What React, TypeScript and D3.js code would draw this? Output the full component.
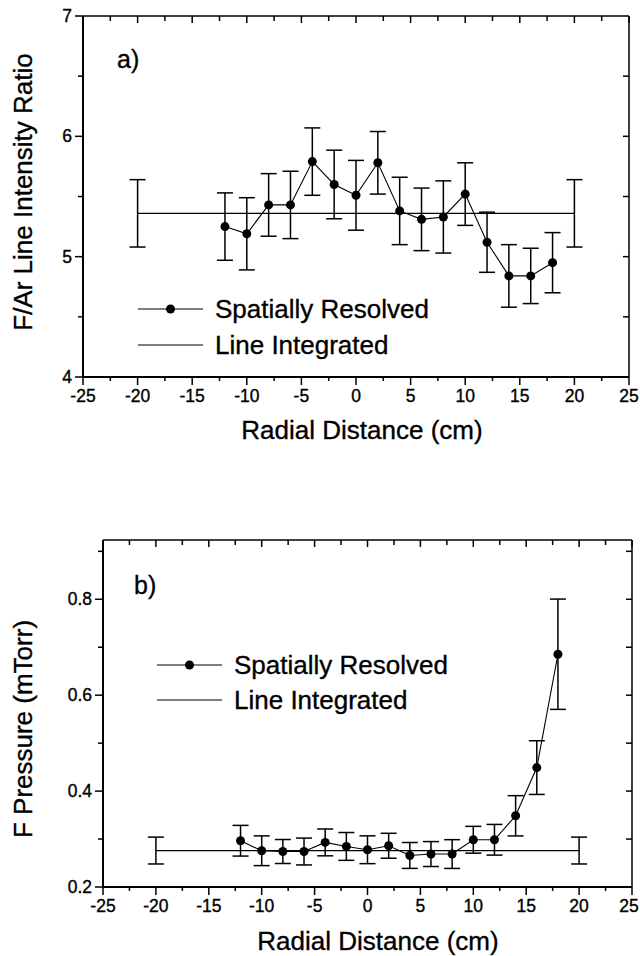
import React from "react";
import * as d3 from "d3";

// ---- Data ----
const radialPositions = [-12, -10, -8, -6, -4, -2, 0, 2, 4, 6, 8, 10, 12, 14, 16, 18];

const ratioValues = [5.25, 5.19, 5.43, 5.43, 5.79, 5.6, 5.51, 5.78, 5.38, 5.31, 5.33, 5.52, 5.12, 4.84, 4.84, 4.95];
const ratioErrors = [0.28, 0.3, 0.26, 0.28, 0.28, 0.285, 0.29, 0.26, 0.28, 0.26, 0.3, 0.26, 0.25, 0.26, 0.23, 0.25];
const ratioIntegratedSpan = [-20, 20];
const ratioIntegratedValue = 5.36;
const ratioIntegratedError = 0.28;

const pressureValues = [0.2965, 0.2756, 0.274, 0.274, 0.293, 0.2846, 0.2777, 0.286, 0.2658, 0.2687, 0.2687, 0.2985, 0.2985, 0.3485, 0.449, 0.6854];
const pressureErrors = [0.032, 0.031, 0.025, 0.028, 0.028, 0.029, 0.029, 0.026, 0.027, 0.026, 0.03, 0.028, 0.032, 0.042, 0.056, 0.115];
const pressureIntegratedSpan = [-20, 20];
const pressureIntegratedValue = 0.276;
const pressureIntegratedError = 0.028;

const xMajorTicks = [-25, -20, -15, -10, -5, 0, 5, 10, 15, 20, 25];
const xMinorTicks = [-22.5, -17.5, -12.5, -7.5, -2.5, 2.5, 7.5, 12.5, 17.5, 22.5];
const ratioMajorTicks = [4, 5, 6, 7];
const ratioMinorTicks = [4.5, 5.5, 6.5];
const pressureMajorTicks = [0.2, 0.4, 0.6, 0.8];
const pressureMinorTicks = [0.3, 0.5, 0.7, 0.9];

const legendLabels = ["Spatially Resolved", "Line Integrated"];
const xTitle = "Radial Distance (cm)";

const FONT = "'Liberation Sans', Arial, Helvetica, sans-serif";
const TS = 0.35; // slight text stroke to mimic the heavy print
const WIDTH = 640;

type PanelProps = {
  left: number; right: number; top: number; bottom: number;
  yDomain: [number, number];
  yMajor: number[]; yMinor: number[]; yFormat: (v: number) => string;
  values: number[]; errors: number[];
  intSpan: number[]; intValue: number; intError: number;
  panelLabel: string; panelLabelX: number; panelLabelY: number;
  yTitle: string; yTitleY: number;
  xTitleX: number; xTitleY: number;
  legendLineX0: number; legendY0: number; legendGap: number;
};

function Panel(p: PanelProps) {
  const x = d3.scaleLinear().domain([-25, 25]).range([p.left, p.right]);
  const y = d3.scaleLinear().domain(p.yDomain).range([p.bottom, p.top]);
  const pts = radialPositions.map((r, i) => ({ r, v: p.values[i], e: p.errors[i] }));
  const line = d3.line<{ r: number; v: number }>().x(d => x(d.r)).y(d => y(d.v));
  const cap = 8;
  const allXTicks = [...xMajorTicks, ...xMinorTicks];
  const allYTicks = [...p.yMajor, ...p.yMinor];
  const lx0 = p.legendLineX0;
  const lx1 = lx0 + 65;
  const txt = { fontFamily: FONT, stroke: "#000", strokeWidth: TS } as const;
  const labelX = (t: number) => Math.min(x(t), WIDTH - 11);
  return (
    <g>
      {/* frame */}
      <line x1={p.left} x2={p.right} y1={p.top} y2={p.top} stroke="#000" strokeWidth={1.5} />
      <line x1={p.right} x2={p.right} y1={p.top} y2={p.bottom} stroke="#000" strokeWidth={1.5} />
      <line x1={p.left} x2={p.right} y1={p.bottom} y2={p.bottom} stroke="#000" strokeWidth={2} />
      <line x1={p.left} x2={p.left} y1={p.top} y2={p.bottom + 1} stroke="#000" strokeWidth={2} />
      {/* bottom axis ticks */}
      {xMajorTicks.map(t => (
        <g key={"xb" + t}>
          <line x1={x(t)} x2={x(t)} y1={p.bottom} y2={p.bottom + 8} stroke="#000" strokeWidth={1.5} />
          <text x={labelX(t)} y={p.bottom + 25} textAnchor="middle" fontSize={17.5} {...txt}>{String(t)}</text>
        </g>
      ))}
      {xMinorTicks.map(t => (
        <line key={"xm" + t} x1={x(t)} x2={x(t)} y1={p.bottom} y2={p.bottom + 4} stroke="#000" strokeWidth={1.5} />
      ))}
      {/* top border ticks (inward) */}
      {allXTicks.map(t => (
        <line key={"xt" + t} x1={x(t)} x2={x(t)} y1={p.top} y2={p.top + (xMajorTicks.includes(t) ? 7 : 5)} stroke="#000" strokeWidth={1.5} />
      ))}
      {/* left axis ticks */}
      {p.yMajor.map(t => (
        <g key={"yl" + t}>
          <line x1={p.left - 8} x2={p.left} y1={y(t)} y2={y(t)} stroke="#000" strokeWidth={1.5} />
          <text x={p.left - 11} y={y(t) + 6} textAnchor="end" fontSize={17.5} {...txt}>{p.yFormat(t)}</text>
        </g>
      ))}
      {p.yMinor.map(t => (
        <line key={"ym" + t} x1={p.left - 5} x2={p.left} y1={y(t)} y2={y(t)} stroke="#000" strokeWidth={1.5} />
      ))}
      {/* right border ticks (inward) */}
      {allYTicks.filter(t => y(t) > p.top + 1 && y(t) < p.bottom - 1).map(t => (
        <line key={"yr" + t} x1={p.right - 6} x2={p.right} y1={y(t)} y2={y(t)} stroke="#000" strokeWidth={1.5} />
      ))}
      {/* line integrated */}
      <line x1={x(p.intSpan[0])} x2={x(p.intSpan[1])} y1={y(p.intValue)} y2={y(p.intValue)} stroke="#000" strokeWidth={1.3} />
      {p.intSpan.map(r => (
        <g key={"int" + r}>
          <line x1={x(r)} x2={x(r)} y1={y(p.intValue + p.intError)} y2={y(p.intValue - p.intError)} stroke="#000" strokeWidth={1.5} />
          <line x1={x(r) - cap} x2={x(r) + cap} y1={y(p.intValue + p.intError)} y2={y(p.intValue + p.intError)} stroke="#000" strokeWidth={1.5} />
          <line x1={x(r) - cap} x2={x(r) + cap} y1={y(p.intValue - p.intError)} y2={y(p.intValue - p.intError)} stroke="#000" strokeWidth={1.5} />
        </g>
      ))}
      {/* spatially resolved */}
      <path d={line(pts) || ""} fill="none" stroke="#000" strokeWidth={1.1} />
      {pts.map(d => (
        <g key={"pt" + d.r}>
          <line x1={x(d.r)} x2={x(d.r)} y1={y(d.v + d.e)} y2={y(d.v - d.e)} stroke="#000" strokeWidth={1.5} />
          <line x1={x(d.r) - cap} x2={x(d.r) + cap} y1={y(d.v + d.e)} y2={y(d.v + d.e)} stroke="#000" strokeWidth={1.5} />
          <line x1={x(d.r) - cap} x2={x(d.r) + cap} y1={y(d.v - d.e)} y2={y(d.v - d.e)} stroke="#000" strokeWidth={1.5} />
          <circle cx={x(d.r)} cy={y(d.v)} r={4.5} fill="#000" />
        </g>
      ))}
      {/* panel label */}
      <text x={p.panelLabelX} y={p.panelLabelY} fontSize={25} {...txt}>{p.panelLabel}</text>
      {/* legend */}
      <line x1={lx0} x2={lx1} y1={p.legendY0} y2={p.legendY0} stroke="#000" strokeWidth={1.2} />
      <circle cx={(lx0 + lx1) / 2} cy={p.legendY0} r={4.5} fill="#000" />
      <text x={lx1 + 12} y={p.legendY0 + 9} fontSize={26} {...txt}>{legendLabels[0]}</text>
      <line x1={lx0} x2={lx1} y1={p.legendY0 + p.legendGap} y2={p.legendY0 + p.legendGap} stroke="#000" strokeWidth={1.2} />
      <text x={lx1 + 12} y={p.legendY0 + p.legendGap + 9} fontSize={26} {...txt}>{legendLabels[1]}</text>
      {/* titles */}
      <text x={p.xTitleX} y={p.xTitleY} textAnchor="middle" fontSize={26} {...txt}>{xTitle}</text>
      <text transform={`translate(32,${p.yTitleY}) rotate(-90)`} textAnchor="middle" fontSize={26} {...txt}>{p.yTitle}</text>
    </g>
  );
}

export default function App() {
  return (
    <div style={{ position: "absolute", left: 0, top: 0 }}>
      <svg width={WIDTH} height={956} style={{ display: "block", background: "#fff" }}>
        <Panel
          left={83} right={629} top={16} bottom={377}
          yDomain={[4, 7]} yMajor={ratioMajorTicks} yMinor={ratioMinorTicks}
          yFormat={v => String(v)}
          values={ratioValues} errors={ratioErrors}
          intSpan={ratioIntegratedSpan} intValue={ratioIntegratedValue} intError={ratioIntegratedError}
          panelLabel="a)" panelLabelX={117} panelLabelY={68}
          yTitle="F/Ar Line Intensity Ratio" yTitleY={192}
          xTitleX={362} xTitleY={439}
          legendLineX0={138} legendY0={309} legendGap={36}
        />
        <Panel
          left={103} right={632} top={540} bottom={887}
          yDomain={[0.2, 0.9236]} yMajor={pressureMajorTicks} yMinor={pressureMinorTicks}
          yFormat={v => d3.format(".1f")(v)}
          values={pressureValues} errors={pressureErrors}
          intSpan={pressureIntegratedSpan} intValue={pressureIntegratedValue} intError={pressureIntegratedError}
          panelLabel="b)" panelLabelX={134} panelLabelY={594}
          yTitle="F Pressure (mTorr)" yTitleY={729}
          xTitleX={378} xTitleY={950}
          legendLineX0={157} legendY0={665} legendGap={35}
        />
      </svg>
    </div>
  );
}
